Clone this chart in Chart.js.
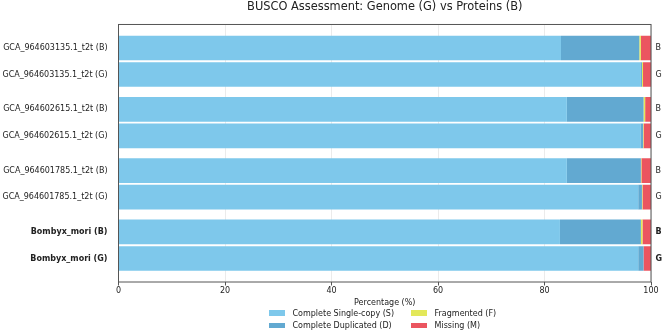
<!DOCTYPE html>
<html>
<head>
<meta charset="utf-8">
<script src="https://cdn.jsdelivr.net/npm/chart.js@4.4.1/dist/chart.umd.min.js"></script>
<style>
  html, body { margin: 0; padding: 0; background: #fff; }
  #wrap { position: relative; width: 662px; height: 331px; }
  #legend {
    position: absolute; left: 269px; top: 307px;
    display: grid; grid-auto-flow: column; grid-template-rows: 12.3px 12.3px; column-gap: 17px;
    font: 8px 'DejaVu Sans'; color: #222;
  }
  .item { display: flex; align-items: center; white-space: nowrap; }
  .swatch { display: inline-block; width: 16px; height: 5.6px; margin-right: 7.5px; }
</style>
</head>
<body>
<div id="wrap">
  <canvas id="chart" width="662" height="331"></canvas>
  <div id="legend"></div>
</div>
<script>
// Assemblies, top to bottom
const genomes = ['GCA_964603135.1_t2t', 'GCA_964602615.1_t2t', 'GCA_964601785.1_t2t', 'Bombyx_mori'];
const highlighted = ['Bombyx_mori'];

// Proteins (B) mode, percent
const proteinSingle = [83.1, 84.2, 84.2, 82.9];
const proteinDuplicated = [14.7, 14.4, 13.9, 15.2];
const proteinFragmented = [0.3, 0.3, 0.1, 0.3];
const proteinMissing = [1.9, 1.1, 1.8, 1.6];

// Genome (G) mode, percent
const genomeSingle = [98.0, 98.0, 97.6, 97.6];
const genomeDuplicated = [0.3, 0.5, 0.7, 1.0];
const genomeFragmented = [0.2, 0.1, 0.1, 0.0];
const genomeMissing = [1.5, 1.4, 1.6, 1.4];

const categories = ['Complete Single-copy (S)', 'Complete Duplicated (D)', 'Fragmented (F)', 'Missing (M)'];
const colors = ['#7ec8eb', '#62a9d1', '#e3e85a', '#eb5560'];
const xTicks = [0, 20, 40, 60, 80, 100];

const FONT = 'DejaVu Sans';
const TEXT = '#222';

// Build stacked datasets, one stack per mode
const datasets = [];
[['B', [proteinSingle, proteinDuplicated, proteinFragmented, proteinMissing]],
 ['G', [genomeSingle, genomeDuplicated, genomeFragmented, genomeMissing]]].forEach(([mode, sets]) => {
    sets.forEach((data, i) => {
        datasets.push({
            label: categories[i],
            data: data,
            backgroundColor: colors[i],
            stack: mode,
            borderWidth: 0,
            categoryPercentage: 0.865,
            barPercentage: 0.93
        });
    });
});

// small margin above first and below last group
function padCategoryAxis(scale) {
    scale._startValue = -0.6;
    scale._valueRange = genomes.length + 0.2;
}

// labels are two lines tall, don't let them push the plot area
function fixAxisWidth(width) {
    return scale => {
        scale.width = width;
        scale.paddingTop = 0;
        scale.paddingBottom = 0;
    };
}

function tickFont(ctx) {
    return {
        family: FONT,
        size: 8,
        lineHeight: '26.5px',
        weight: highlighted.includes(genomes[ctx.index]) ? 'bold' : 'normal'
    };
}

const framePlugin = {
    id: 'frame',
    afterDatasetsDraw(chart) {
        const { ctx, chartArea: a } = chart;
        ctx.save();
        ctx.strokeStyle = '#555';
        ctx.lineWidth = 1;
        ctx.strokeRect(a.left, a.top, a.right - a.left, a.bottom - a.top);
        ctx.restore();
    }
};

new Chart(document.getElementById('chart'), {
    type: 'bar',
    data: { labels: genomes, datasets: datasets },
    plugins: [framePlugin],
    options: {
        indexAxis: 'y',
        responsive: false,
        animation: false,
        layout: { padding: 0 },
        plugins: {
            legend: { display: false },
            tooltip: { enabled: false },
            title: {
                display: true,
                fullSize: false,
                text: 'BUSCO Assessment: Genome (G) vs Proteins (B)',
                color: TEXT,
                font: { family: FONT, size: 11.4, weight: 'normal', lineHeight: 1.2 },
                padding: { top: 0, bottom: 10.8 }
            }
        },
        scales: {
            x: {
                type: 'linear',
                min: 0,
                max: 100,
                stacked: true,
                afterBuildTicks: s => { s.ticks = xTicks.map(v => ({ value: v })); },
                afterFit: s => { s.height = 49; },
                grid: { color: 'rgba(0,0,0,0.08)', tickLength: 3.5, tickColor: '#555' },
                border: { display: false },
                ticks: { padding: 0.7, color: TEXT, font: { family: FONT, size: 8 } },
                title: {
                    display: true,
                    text: 'Percentage (%)',
                    color: TEXT,
                    font: { family: FONT, size: 8 },
                    padding: { top: 0, bottom: 23.2 }
                }
            },
            y: {
                type: 'category',
                position: 'left',
                stacked: true,
                offset: true,
                afterBuildTicks: padCategoryAxis,
                afterFit: fixAxisWidth(118.5),
                grid: { display: false, drawTicks: false },
                border: { display: false },
                ticks: {
                    autoSkip: false,
                    padding: 11,
                    color: TEXT,
                    font: tickFont,
                    callback: (value, index) => [genomes[index] + ' (B)', genomes[index] + ' (G)']
                }
            },
            yR: {
                type: 'category',
                position: 'right',
                labels: genomes,
                offset: true,
                afterBuildTicks: padCategoryAxis,
                afterFit: fixAxisWidth(11),
                grid: { display: false, drawTicks: false },
                border: { display: false },
                ticks: {
                    autoSkip: false,
                    padding: 4.5,
                    color: TEXT,
                    font: tickFont,
                    callback: () => ['B', 'G']
                }
            }
        }
    }
});

// Legend in two columns below the axis title
const legend = document.getElementById('legend');
categories.forEach((name, i) => {
    const item = document.createElement('div');
    item.className = 'item';
    item.innerHTML = `<span class="swatch" style="background:${colors[i]}"></span>${name}`;
    legend.appendChild(item);
});
</script>
</body>
</html>
